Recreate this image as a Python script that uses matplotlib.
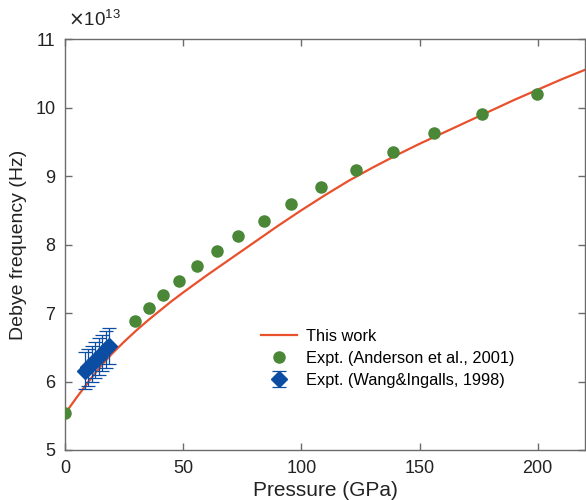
import matplotlib
matplotlib.use("Agg")
import matplotlib.pyplot as plt

plt.rcParams['font.family'] = ['Liberation Sans', 'DejaVu Sans']

# "This work" curve (Debye frequency in units of 1e13 Hz)
work_p = [0, 5, 10, 15, 20, 25, 30, 35, 40, 45, 50, 60, 70, 80, 90, 100, 110, 120,
          130, 140, 150, 160, 170, 180, 190, 200, 210, 220]
work_f = [5.53, 5.77, 6.00, 6.22, 6.41, 6.58, 6.74, 6.89, 7.03, 7.17, 7.30, 7.55,
          7.79, 8.03, 8.27, 8.50, 8.72, 8.93, 9.12, 9.30, 9.47, 9.63, 9.79, 9.95,
          10.11, 10.26, 10.41, 10.55]

# Anderson et al., 2001
and_p = [0, 29.5, 35.4, 41.4, 48.1, 55.7, 64.1, 73.4, 84.0, 95.8, 108.4, 123.0,
         138.8, 156.3, 176.4, 199.6]
and_f = [5.54, 6.88, 7.07, 7.27, 7.47, 7.68, 7.90, 8.12, 8.35, 8.59, 8.84, 9.09,
         9.35, 9.63, 9.90, 10.19]

# Wang & Ingalls, 1998
wang_p = [8.4, 9.9, 11.3, 12.8, 14.3, 15.8, 17.2, 18.6]
wang_f = [6.16, 6.21, 6.26, 6.31, 6.36, 6.42, 6.47, 6.52]
wang_err = [0.27, 0.27, 0.26, 0.26, 0.27, 0.26, 0.27, 0.26]

fig = plt.figure(figsize=(5.86, 5.0), dpi=100)
ax = fig.add_axes([65/586, 50/500, 520/586, 411/500])

red = '#E9502C'
green = '#4A8737'
blue = '#0B4DA3'

ax.plot(work_p, work_f, '-', color=red, lw=1.6, label='This work', zorder=2)
ax.plot(and_p, and_f, 'o', color=green, ms=8, mec=green, lw=0,
        label='Expt. (Anderson et al., 2001)', zorder=3)
ax.errorbar(wang_p, wang_f, yerr=wang_err, fmt='D', color=blue, ms=8,
            mec=blue, ecolor=blue, elinewidth=0.9, capsize=5, capthick=0.9,
            label='Expt. (Wang&Ingalls, 1998)', zorder=4)

ax.set_xlim(0, 220)
ax.set_ylim(5, 11)
ax.set_xticks([0, 50, 100, 150, 200])
ax.set_yticks([5, 6, 7, 8, 9, 10, 11])
ax.set_yticklabels(['5', '6', '7', '8', '9', '10', '11'])

spine_c = '#6b6b6b'
for s in ax.spines.values():
    s.set_color(spine_c)
    s.set_linewidth(1.0)
ax.tick_params(direction='in', length=5, width=1, color=spine_c,
               top=True, right=True, labelsize=13, labelcolor='#222222', pad=7)

ax.set_xlabel('Pressure (GPa)', fontsize=15, color='#222222', labelpad=3)
ax.set_ylabel('Debye frequency (Hz)', fontsize=14, color='#222222', labelpad=6)
ax.text(0.005, 1.022, r'$\times\mathregular{10^{13}}$', transform=ax.transAxes,
        fontsize=13.5, color='#222222', ha='left', va='bottom')

leg = ax.legend(loc='lower left', bbox_to_anchor=(0.365, 0.135), frameon=False,
                fontsize=11.8, handlelength=2.2, handletextpad=0.5,
                labelspacing=0.42, borderaxespad=0)

fig.savefig('out.png', dpi=100)
